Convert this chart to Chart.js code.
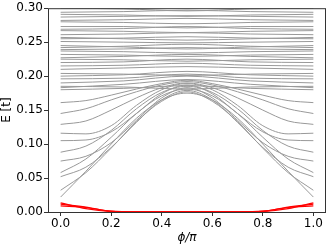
<!DOCTYPE html>
<html>
<head>
<meta charset="utf-8">
<script src="https://cdn.jsdelivr.net/npm/chart.js@4/dist/chart.umd.min.js"></script>
<style>
  html, body { margin: 0; padding: 0; background: #fff; }
  #wrap { width: 327px; height: 247px; }
</style>
</head>
<body>
<div id="wrap"><canvas id="spectrum"></canvas></div>
<script>
// phi/pi sample points
var phiFine = [0, 0.1, 0.2, 0.3, 0.4, 0.5, 0.6, 0.7, 0.8, 0.9, 1.0];
var phiCoarse = [0, 0.25, 0.5, 0.75, 1.0];

var xTicks = [0, 0.2, 0.4, 0.6, 0.8, 1.0];
var yTicks = [0, 0.05, 0.10, 0.15, 0.20, 0.25, 0.30];

// low-lying states (red), on phiFine
var red1 = [0.0135, 0.0050, 0.0008, 0.0003, 0.0003, 0.0003, 0.0003, 0.0003, 0.0008, 0.0050, 0.0135];
var red2 = [0.0090, 0.0066, 0.0012, 0.0002, 0.0002, 0.0002, 0.0002, 0.0002, 0.0012, 0.0066, 0.0090];
var red3 = [0.0115, 0.0072, 0.0010, 0.0004, 0.0004, 0.0004, 0.0004, 0.0004, 0.0010, 0.0072, 0.0115];

// dispersive gray levels, on phiFine
var band1  = [0.022, 0.060, 0.100, 0.138, 0.165, 0.175, 0.165, 0.138, 0.100, 0.060, 0.022];
var band2  = [0.032, 0.058, 0.094, 0.133, 0.163, 0.177, 0.163, 0.133, 0.094, 0.058, 0.032];
var band3  = [0.052, 0.066, 0.095, 0.132, 0.165, 0.179, 0.165, 0.132, 0.095, 0.066, 0.052];
var band4  = [0.058, 0.078, 0.110, 0.145, 0.171, 0.181, 0.171, 0.145, 0.110, 0.078, 0.058];
var band5  = [0.075, 0.082, 0.102, 0.135, 0.168, 0.183, 0.168, 0.135, 0.102, 0.082, 0.075];
var band6  = [0.088, 0.097, 0.120, 0.152, 0.176, 0.185, 0.176, 0.152, 0.120, 0.097, 0.088];
var band7  = [0.105, 0.106, 0.118, 0.145, 0.174, 0.187, 0.174, 0.145, 0.118, 0.106, 0.105];
var band8  = [0.116, 0.115, 0.127, 0.157, 0.180, 0.189, 0.180, 0.157, 0.127, 0.115, 0.116];
var band9  = [0.129, 0.134, 0.150, 0.168, 0.183, 0.190, 0.183, 0.168, 0.150, 0.134, 0.129];
var band10 = [0.145, 0.152, 0.165, 0.177, 0.187, 0.192, 0.187, 0.177, 0.165, 0.152, 0.145];
var band11 = [0.161, 0.164, 0.172, 0.181, 0.189, 0.194, 0.189, 0.181, 0.172, 0.164, 0.161];

// nearly flat gray levels, on phiCoarse
var flat1  = [0.180, 0.182, 0.186, 0.182, 0.180];
var flat2  = [0.183, 0.188, 0.195, 0.188, 0.183];
var flat3  = [0.185, 0.184, 0.181, 0.184, 0.185];
var flat4  = [0.190, 0.193, 0.200, 0.193, 0.190];
var flat5  = [0.196, 0.197, 0.203, 0.197, 0.196];
var flat6  = [0.200, 0.202, 0.207, 0.202, 0.200];
var flat7  = [0.204, 0.203, 0.201, 0.203, 0.204];
var flat8  = [0.210, 0.212, 0.214, 0.212, 0.210];
var flat9  = [0.215, 0.216, 0.219, 0.216, 0.215];
var flat10 = [0.220, 0.221, 0.225, 0.221, 0.220];
var flat11 = [0.225, 0.224, 0.222, 0.224, 0.225];
var flat12 = [0.227, 0.229, 0.232, 0.229, 0.227];
var flat13 = [0.232, 0.231, 0.229, 0.231, 0.232];
var flat14 = [0.237, 0.236, 0.234, 0.236, 0.237];
var flat15 = [0.239, 0.240, 0.242, 0.240, 0.239];
var flat16 = [0.242, 0.244, 0.247, 0.244, 0.242];
var flat17 = [0.245, 0.243, 0.240, 0.243, 0.245];
var flat18 = [0.251, 0.250, 0.249, 0.250, 0.251];
var flat19 = [0.255, 0.256, 0.258, 0.256, 0.255];
var flat20 = [0.257, 0.255, 0.253, 0.255, 0.257];
var flat21 = [0.261, 0.262, 0.264, 0.262, 0.261];
var flat22 = [0.267, 0.266, 0.264, 0.266, 0.267];
var flat23 = [0.269, 0.270, 0.273, 0.270, 0.269];
var flat24 = [0.273, 0.273, 0.271, 0.273, 0.273];
var flat25 = [0.280, 0.279, 0.277, 0.279, 0.280];
var flat26 = [0.282, 0.283, 0.285, 0.283, 0.282];
var flat27 = [0.287, 0.288, 0.289, 0.288, 0.287];
var flat28 = [0.291, 0.290, 0.288, 0.290, 0.291];
var flat29 = [0.294, 0.295, 0.297, 0.295, 0.294];
var flat30 = [0.300, 0.299, 0.296, 0.299, 0.300];

var redLevels = [red1, red2, red3];
var bandLevels = [band1, band2, band3, band4, band5, band6, band7, band8, band9, band10, band11];
var flatLevels = [flat1, flat2, flat3, flat4, flat5, flat6, flat7, flat8, flat9, flat10,
                  flat11, flat12, flat13, flat14, flat15, flat16, flat17, flat18, flat19, flat20,
                  flat21, flat22, flat23, flat24, flat25, flat26, flat27, flat28, flat29, flat30];

function toPoints(xs, ys) {
    return ys.map(function (y, i) { return { x: xs[i], y: y }; });
}

function lineSet(xs, ys, color, width) {
    return {
        data: toPoints(xs, ys),
        borderColor: color,
        borderWidth: width,
        pointRadius: 0,
        fill: false,
        cubicInterpolationMode: 'monotone'
    };
}

// first dataset is drawn on top, so red goes first
var datasets = [];
redLevels.forEach(function (r) { datasets.push(lineSet(phiFine, r, '#ff0000', 1.2)); });
bandLevels.forEach(function (b) { datasets.push(lineSet(phiFine, b, '#999999', 1)); });
flatLevels.forEach(function (f) { datasets.push(lineSet(phiCoarse, f, '#999999', 1)); });

var frame = {
    id: 'frame',
    afterDraw: function (chart) {
        var a = chart.chartArea, c = chart.ctx;
        c.save();
        c.strokeStyle = '#333';
        c.lineWidth = 1;
        c.strokeRect(a.left + 0.5, a.top + 0.5, a.right - a.left - 1, a.bottom - a.top);
        c.restore();
    }
};

var tickFont = { family: 'DejaVu Sans', size: 12 };

new Chart(document.getElementById('spectrum').getContext('2d'), {
    type: 'line',
    data: { datasets: datasets },
    options: {
        responsive: true,
        maintainAspectRatio: false,
        animation: false,
        layout: { padding: { top: 5, right: 1, left: 0, bottom: 0 } },
        plugins: { legend: { display: false }, tooltip: { enabled: false } },
        scales: {
            x: {
                type: 'linear',
                min: -0.05,
                max: 1.05,
                afterBuildTicks: function (s) { s.ticks = xTicks.map(function (v) { return { value: v }; }); },
                afterFit: function (s) { s.height = 35; },
                grid: { display: true, drawOnChartArea: false, tickLength: 4, color: '#333' },
                border: { display: false },
                ticks: {
                    color: '#000', font: tickFont, padding: 1, maxRotation: 0,
                    callback: function (v) { return v.toFixed(1); }
                },
                title: {
                    display: true, text: 'ϕ/π', color: '#000',
                    font: { family: 'DejaVu Sans', size: 12, style: 'italic' },
                    padding: { top: 0, bottom: 2 }
                }
            },
            y: {
                type: 'linear',
                min: 0,
                max: 0.30,
                afterBuildTicks: function (s) { s.ticks = yTicks.map(function (v) { return { value: v }; }); },
                afterFit: function (s) { s.width = 48; },
                grid: { display: true, drawOnChartArea: false, tickLength: 4, color: '#333' },
                border: { display: false },
                ticks: {
                    color: '#000', font: tickFont, padding: 1,
                    callback: function (v) { return v.toFixed(2); }
                },
                title: {
                    display: true, text: 'E [t]', color: '#000',
                    font: { family: 'DejaVu Sans', size: 12 },
                    padding: { top: 0, bottom: 0 }
                }
            }
        }
    },
    plugins: [frame]
});
</script>
</body>
</html>
